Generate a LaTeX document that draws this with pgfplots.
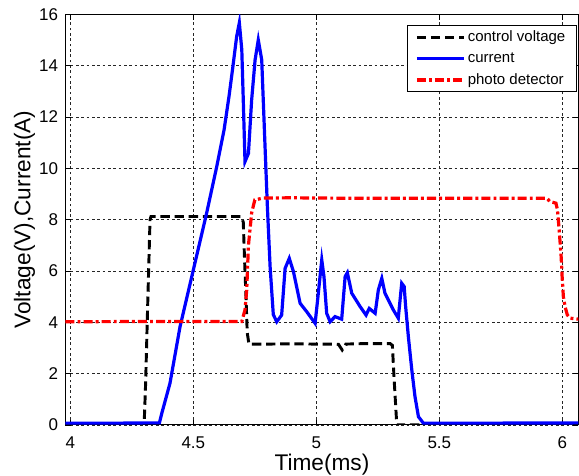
\documentclass[border=0pt]{standalone}
\usepackage{fontspec}
\setmainfont{Liberation Sans}
\usepackage{pgfplots}
\pgfplotsset{compat=1.18}
\begin{document}
\begin{tikzpicture}
\begin{axis}[
  at={(0,0)}, anchor=south west,
  scale only axis,
  width=384.8pt, height=308pt,
  xmin=3.98, xmax=6.0654, ymin=0, ymax=16,
  xtick={4,4.5,5,5.5,6},
  ytick={0,2,4,6,8,10,12,14,16},
  /pgf/number format/assume math mode=true,
  tick align=inside,
  major tick length=4pt,
  every tick/.style={black, line width=0.5pt},
  grid=major,
  major grid style={black!85, line width=0.5pt, dash pattern=on 2pt off 2pt},
  axis line style={black, line width=0.8pt},
  tick label style={font=\fontsize{12.75}{14}\selectfont},
  xticklabel style={anchor=base, yshift=-18pt},
  yticklabel style={anchor=east, inner sep=0pt, xshift=-5.3pt},
  xlabel={Time(ms)},
  ylabel={Voltage(V),Current(A)},
  label style={font=\fontsize{17}{19}\selectfont},
  x label style={at={(axis description cs:0.5,0)}, anchor=base, yshift=-34.2pt},
  y label style={at={(axis description cs:-0.0682,0.5)}, anchor=base, rotate=0},
  legend image code/.code={\draw[#1] (0pt,0pt) -- (35pt,0pt);},
  legend style={at={(axis description cs:0.996,0.973)}, anchor=north east,
    draw=black, line width=0.6pt, font=\fontsize{11.25}{13}\selectfont,
    inner xsep=6pt, inner ysep=1.5pt, row sep=1.5pt,
    nodes={inner sep=2pt, text height=8.2pt, text depth=2.3pt, anchor=west},
    cells={anchor=west}},
  legend cell align=left,
]
\addplot[black, line width=2.2pt, dash pattern=on 7pt off 3.6pt] coordinates {
(3.98,0)(4.300,0)(4.306,1.6)(4.315,4.86)(4.324,8.0)(4.328,8.12)(4.40,8.12)(4.50,8.12)(4.60,8.12)(4.695,8.12)
(4.703,7.9)(4.708,6.5)(4.714,5.0)(4.719,3.6)(4.726,3.15)(4.80,3.15)(4.90,3.16)(5.00,3.15)(5.07,3.15)(5.09,3.14)
(5.105,2.92)(5.12,3.15)(5.20,3.17)(5.30,3.17)(5.309,3.1)(5.316,1.8)(5.327,0)(6.0654,0)
};
\addlegendentry{control voltage}
\addplot[blue, line width=2.4pt] coordinates {
(3.98,0.07)(4.20,0.07)(4.30,0.08)(4.362,0.08)(4.372,0.46)(4.405,1.62)(4.446,3.83)(4.50,6.04)(4.554,8.25)(4.595,10.06)
(4.625,11.5)(4.645,12.8)(4.660,13.9)(4.676,15.13)(4.687,15.67)(4.697,14.61)(4.703,12.66)(4.710,10.26)(4.724,10.58)(4.737,12.66)
(4.751,14.22)(4.764,15.0)(4.778,14.22)(4.792,10.71)(4.801,8.5)(4.812,6.17)(4.825,4.3)(4.839,4.02)(4.859,4.28)(4.873,6.1)
(4.890,6.49)(4.907,5.97)(4.934,4.74)(4.961,4.41)(4.995,3.96)(5.008,5.13)(5.022,6.43)(5.031,5.78)(5.042,4.35)(5.056,4.02)
(5.076,4.22)(5.103,4.12)(5.117,5.78)(5.126,5.93)(5.144,5.13)(5.178,4.61)(5.202,4.28)(5.215,4.54)(5.239,4.35)(5.252,5.26)
(5.266,5.71)(5.279,5.13)(5.313,4.48)(5.333,4.16)(5.347,5.52)(5.357,5.39)(5.363,4.61)(5.374,3.44)(5.388,2.14)(5.401,1.10)
(5.415,0.32)(5.435,0.07)(5.70,0.07)(6.0654,0.08)
};
\addlegendentry{current}
\addplot[red, line width=2.4pt, dash pattern=on 6.8pt off 2.3pt on 2.2pt off 2.3pt] coordinates {
(3.98,4.02)(4.30,4.03)(4.60,4.03)(4.697,4.03)(4.710,4.48)(4.717,5.26)(4.724,7.0)(4.737,8.26)(4.750,8.77)(4.785,8.84)
(4.90,8.85)(5.00,8.84)(5.20,8.83)(5.40,8.83)(5.60,8.83)(5.80,8.83)(5.937,8.83)(5.950,8.70)(5.974,8.64)(5.980,8.38)
(5.987,7.6)(5.995,6.56)(5.999,5.78)(6.004,5.0)(6.011,4.61)(6.020,4.29)(6.031,4.16)(6.0654,4.12)
};
\addlegendentry{photo detector}
\end{axis}
\pgfresetboundingbox
\useasboundingbox (-49.05pt,-38.25pt) rectangle (385.2pt,318.7pt);
\end{tikzpicture}
\end{document}
